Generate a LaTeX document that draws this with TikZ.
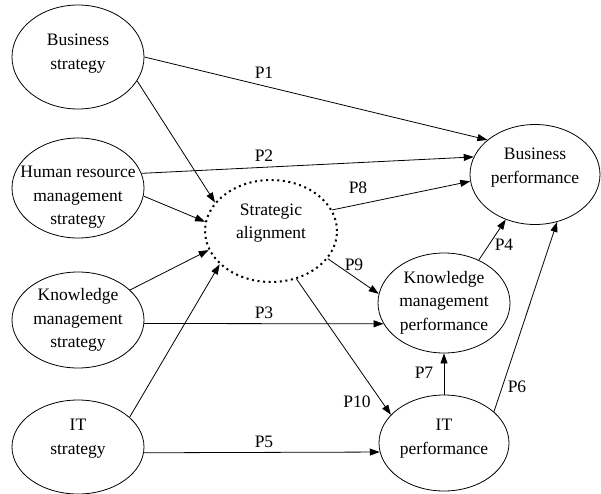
\documentclass[tikz,border=0pt]{standalone}
\usepackage{fontspec}
\setmainfont{Liberation Serif}
\usetikzlibrary{arrows.meta,shapes.geometric}
\begin{document}
\begin{tikzpicture}[x=1pt,y=-1pt,
  ell/.style={draw,ellipse,line width=0.8pt,inner sep=0pt},
  dotell/.style={draw,ellipse,inner sep=0pt,line width=2pt,dash pattern=on 2pt off 3.6pt},
  txt/.style={align=center,inner sep=0pt,font=\fontsize{17.5}{23.5}\selectfont},
  lbl/.style={inner sep=0pt,font=\fontsize{17.5}{23.5}\selectfont},
  arr/.style={line width=0.8pt,-{Triangle[length=10pt,width=7pt]}},
  plain/.style={line width=0.8pt}]
\fill[white] (0,0) rectangle (601,493);
\useasboundingbox (0,0) rectangle (601,493);

% ellipses
\node[ell,minimum width=132pt,minimum height=104pt] (bs) at (78,57) {};
\node[ell,minimum width=132pt,minimum height=100pt] (hr) at (78,188) {};
\node[ell,minimum width=132pt,minimum height=96pt] (km) at (78,320) {};
\node[ell,minimum width=132pt,minimum height=94pt] (it) at (78,447) {};
\node[dotell,minimum width=132pt,minimum height=102pt] (sa) at (271,231) {};
\node[ell,minimum width=130pt,minimum height=100pt] (bp) at (535,174.5) {};
\node[ell,minimum width=132pt,minimum height=100pt] (kmp) at (444,303) {};
\node[ell,minimum width=130pt,minimum height=96pt] (itp) at (444,443) {};

% texts
\node[txt] (bs-t) at (78,53.5) {Business\\strategy};
\node[txt] (hr-t) at (78,197.5) {Human resource\\management\\strategy};
\node[txt] (km-t) at (78,320) {Knowledge\\management\\strategy};
\node[txt] (it-t) at (78,438.5) {IT\\strategy};
\node[txt] (sa-t) at (271,223) {Strategic\\alignment};
\node[txt] (bp-t) at (535,167.5) {Business\\performance};
\node[txt] (kmp-t) at (444,302.5) {Knowledge\\management\\performance};
\node[txt] (itp-t) at (444,438.5) {IT\\performance};

% connectors
\draw[arr] (bs.east) -- (bp.144.3);
\draw[arr] (bs.-22.8) -- (sa.153.4);
\draw[arr] (hr.13.4) -- (bp.164.2);
\draw[arr] (hr.-7.7) -- (sa.172.5);
\draw[arr] (km.30.2) -- (sa.197.1);
\draw[arr] (it.30.2) -- (sa.213.2);
\draw[arr] (km.-3.5) -- (kmp.199.3);
\draw[arr] (it.-5.2) -- (itp.188.9);
\draw[arr] (sa.19) -- (bp.186.6);
\draw[arr] (sa.-26.6) -- (kmp.172.2);
\draw[arr] (sa.-62.1) -- (itp.152.6);
\draw[arr] (itp.north) -- (kmp.south);
\draw[arr] (kmp.51.3) -- (bp.237.5);
\draw[arr] (itp.32.3) -- (bp.-65.6);

% labels
\node[lbl] (l1) at (264,73) {P1};
\node[lbl] (l2) at (264,156) {P2};
\node[lbl] (l3) at (264,313) {P3};
\node[lbl] (l5) at (264,442) {P5};
\node[lbl] (l8) at (358,188) {P8};
\node[lbl] (l9) at (354,265) {P9};
\node[lbl] (l10) at (357,402) {P10};
\node[lbl] (l7) at (424,373) {P7};
\node[lbl] (l4) at (504,245) {P4};
\node[lbl] (l6) at (517,387) {P6};
\end{tikzpicture}
\end{document}
